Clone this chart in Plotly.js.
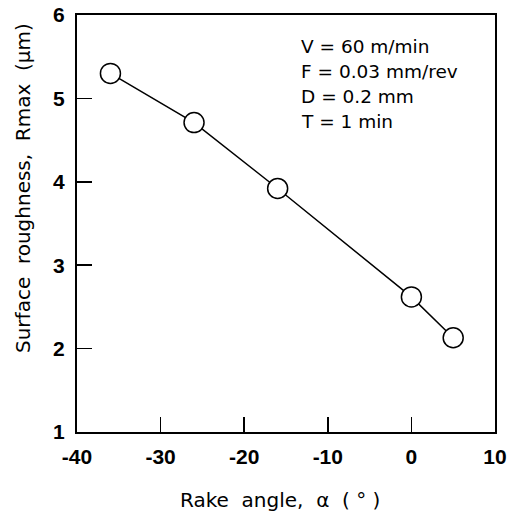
<!DOCTYPE html>
<html>
<head>
<meta charset="utf-8">
<script src="https://cdn.plot.ly/plotly-3.0.1.min.js"></script>
<style>html,body{margin:0;padding:0;background:#fff;}#chart{width:510px;height:511px;}</style>
</head>
<body>
<div id="chart"></div>
<script>
const rakeAngle = [-36, -26, -16, 0, 5];
const roughness = [5.30, 4.71, 3.92, 2.62, 2.13];
const xTicks = [-40, -30, -20, -10, 0, 10];
const yTicks = [1, 2, 3, 4, 5, 6];
const conditions = ["V = 60 m/min", "F = 0.03 mm/rev", "D = 0.2 mm", "T = 1 min"];
const condY = [5.62, 5.32, 5.02, 4.72];

const annFont = {family: "DejaVu Sans, Arial, sans-serif", size: 18.5, color: "#000"};
const titleFont = {family: "DejaVu Sans, Arial, sans-serif", size: 20, color: "#000"};
const annotations = conditions.map((t, i) => ({
  text: t, x: -13.4, y: condY[i], xref: "x", yref: "y",
  xanchor: "left", yanchor: "middle", showarrow: false, font: annFont
}));
annotations.push({
  text: "Rake  angle,  α  ( ° )", xref: "paper", yref: "paper",
  x: (280 - 77) / 418, y: -(500 - 432) / 417, xanchor: "center", yanchor: "middle",
  showarrow: false, font: titleFont
});
annotations.push({
  text: "Surface  roughness,  Rmax  (µm)", xref: "paper", yref: "paper",
  x: -(77 - 23) / 418, y: (432 - 188) / 417, xanchor: "center", yanchor: "middle",
  textangle: -90, showarrow: false, font: titleFont
});

const trace = {
  x: rakeAngle, y: roughness, type: "scatter", mode: "lines+markers",
  line: {color: "#000", width: 1.5},
  marker: {symbol: "circle", size: 20, color: "#fff", line: {color: "#000", width: 1.5}},
  cliponaxis: false, hoverinfo: "skip"
};

const tickFont = {family: "Liberation Sans, Arial, sans-serif", size: 21, color: "#000", weight: "bold"};
const layout = {
  width: 510, height: 511,
  margin: {l: 77, r: 15, t: 15, b: 79},
  paper_bgcolor: "#fff", plot_bgcolor: "#fff",
  showlegend: false,
  xaxis: {
    range: [-40, 10], tickvals: xTicks, ticktext: xTicks.map(String),
    ticks: "inside", ticklen: 15, tickwidth: 1.5, tickcolor: "#000",
    showline: true, linecolor: "#000", linewidth: 2, mirror: true,
    showgrid: false, zeroline: false, tickfont: tickFont, ticklabelstandoff: 5
  },
  yaxis: {
    range: [1, 6], tickvals: yTicks, ticktext: yTicks.map(String),
    ticks: "inside", ticklen: 15, tickwidth: 1.5, tickcolor: "#000",
    showline: true, linecolor: "#000", linewidth: 2, mirror: true,
    showgrid: false, zeroline: false, tickfont: tickFont, ticklabelstandoff: 6
  },
  annotations: annotations
};

Plotly.newPlot("chart", [trace], layout, {displayModeBar: false, staticPlot: true});
</script>
</body>
</html>
